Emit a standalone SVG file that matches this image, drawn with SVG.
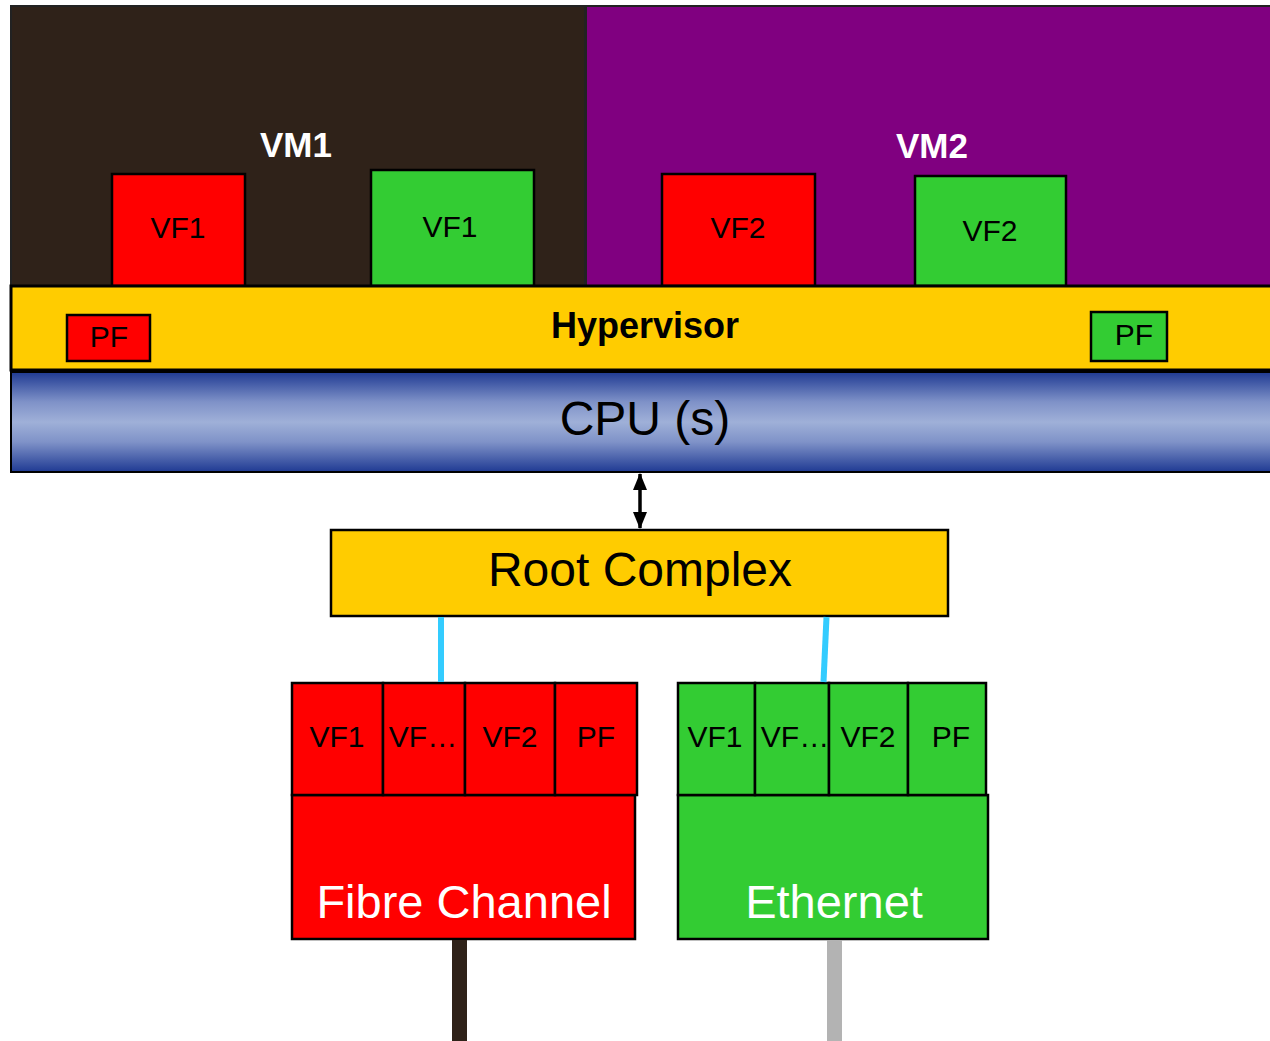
<svg xmlns="http://www.w3.org/2000/svg" width="1270" height="1041" viewBox="0 0 1270 1041">
<defs>
<linearGradient id="cpuGrad" x1="0" y1="0" x2="0" y2="1">
<stop offset="0" stop-color="#1f3a93"/>
<stop offset="0.3" stop-color="#7f92c8"/>
<stop offset="0.5" stop-color="#9fb0d8"/>
<stop offset="0.7" stop-color="#7f92c8"/>
<stop offset="1" stop-color="#1f3a93"/>
</linearGradient>
<marker id="ah" viewBox="0 0 17 14" refX="16" refY="7" markerWidth="17" markerHeight="14" markerUnits="userSpaceOnUse" orient="auto-start-reverse">
<path d="M0,0 L17,7 L0,14 Z" fill="#000"/>
</marker>
</defs>
<style>
.box{stroke:#000;stroke-width:2.5}
.red{fill:#ff0000}
.green{fill:#33cc33}
.yellow{fill:#ffcc00}
.t{font-family:"Liberation Sans",Arial,sans-serif;text-anchor:middle;fill:#000}
.s30{font-size:30px}
.s48{font-size:48px}
.bold{font-weight:bold}
.white{fill:#fff}
</style>
<rect width="1270" height="1041" fill="#fff"/>

<g id="vm1">
<rect x="11" y="6" width="574" height="280" fill="#2f2219" stroke="#222" stroke-width="2"/>
<text class="t bold white" x="296" y="157" font-size="35">VM1</text>
</g>
<g id="vm2">
<rect x="586" y="6" width="690" height="280" fill="#800080" stroke="#222" stroke-width="2"/>
<text class="t bold white" x="932" y="158" font-size="35">VM2</text>
</g>

<g id="vm1-vf1-red">
<rect class="box red" x="112" y="174" width="133" height="112"/>
<text class="t s30" x="178" y="238">VF1</text>
</g>
<g id="vm1-vf1-green">
<rect class="box green" x="371" y="170" width="163" height="116"/>
<text class="t s30" x="450" y="237">VF1</text>
</g>
<g id="vm2-vf2-red">
<rect class="box red" x="662" y="174" width="153" height="112"/>
<text class="t s30" x="738" y="238">VF2</text>
</g>
<g id="vm2-vf2-green">
<rect class="box green" x="915" y="176" width="151" height="110"/>
<text class="t s30" x="990" y="241">VF2</text>
</g>

<g id="hypervisor">
<rect x="11" y="286" width="1265" height="84" fill="#ffcc00" stroke="#000" stroke-width="3"/>
<text class="t bold" x="645" y="338" font-size="36">Hypervisor</text>
</g>
<g id="hv-pf-red">
<rect class="box red" x="67" y="315" width="83" height="46"/>
<text class="t s30" x="109" y="347">PF</text>
</g>
<g id="hv-pf-green">
<rect class="box green" x="1091" y="312" width="76" height="49"/>
<text class="t s30" x="1134" y="345">PF</text>
</g>

<g id="cpu">
<rect x="11" y="372" width="1265" height="100" fill="url(#cpuGrad)" stroke="#000" stroke-width="2"/>
<text class="t s48" x="645" y="435">CPU (s)</text>
</g>

<g id="root-complex">
<rect class="box yellow" x="331" y="530" width="617" height="86"/>
<text class="t s48" x="640" y="586">Root Complex</text>
</g>

<g id="fibre-channel">
<rect class="box red" x="292" y="795" width="343" height="144"/>
<rect class="box red" x="292" y="683" width="91" height="112"/>
<rect class="box red" x="383" y="683" width="82" height="112"/>
<rect class="box red" x="465" y="683" width="90" height="112"/>
<rect class="box red" x="555" y="683" width="82" height="112"/>
<text class="t s30" x="337" y="747">VF1</text>
<text class="t s30" x="423" y="747">VF…</text>
<text class="t s30" x="510" y="747">VF2</text>
<text class="t s30" x="596" y="747">PF</text>
<text class="t white" x="464" y="918" font-size="47">Fibre Channel</text>
</g>

<g id="ethernet">
<rect class="box green" x="678" y="795" width="310" height="144"/>
<rect class="box green" x="678" y="683" width="77" height="112"/>
<rect class="box green" x="755" y="683" width="74" height="112"/>
<rect class="box green" x="829" y="683" width="79" height="112"/>
<rect class="box green" x="908" y="683" width="78" height="112"/>
<text class="t s30" x="715" y="747">VF1</text>
<text class="t s30" x="795" y="747">VF…</text>
<text class="t s30" x="868" y="747">VF2</text>
<text class="t s30" x="951" y="747">PF</text>
<text class="t white" x="834" y="918" font-size="47">Ethernet</text>
</g>

<g id="connectors">
<line x1="640" y1="474" x2="640" y2="528" stroke="#000" stroke-width="3.5" marker-start="url(#ah)" marker-end="url(#ah)"/>
<line x1="441" y1="617" x2="441" y2="682" stroke="#33ccff" stroke-width="6"/>
<line x1="826.5" y1="617" x2="823.5" y2="682" stroke="#33ccff" stroke-width="6"/>
<line x1="459.5" y1="940" x2="459.5" y2="1041" stroke="#2f2219" stroke-width="15"/>
<line x1="834.5" y1="940" x2="834.5" y2="1041" stroke="#b3b3b3" stroke-width="15"/>
</g>
</svg>
